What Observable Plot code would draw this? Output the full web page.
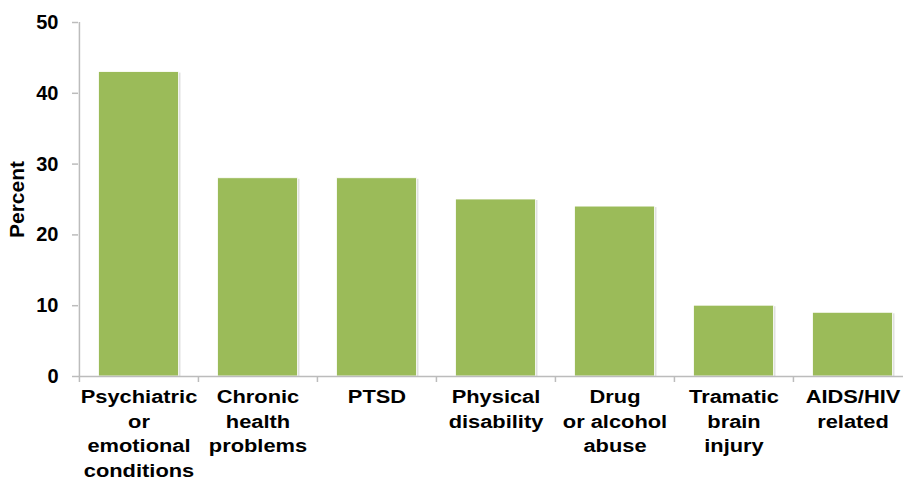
<!DOCTYPE html>
<html>
<head>
<meta charset="utf-8">
<script src="https://cdn.jsdelivr.net/npm/d3@7"></script>
<script src="https://cdn.jsdelivr.net/npm/@observablehq/plot@0.6"></script>
<style>
  html, body { margin: 0; padding: 0; background: #fff; overflow: hidden; }
  #chart svg { display: block; }
</style>
</head>
<body>
<div id="chart"></div>
<script>
const categories = [
  "Psychiatric\nor\nemotional\nconditions",
  "Chronic\nhealth\nproblems",
  "PTSD",
  "Physical\ndisability",
  "Drug\nor alcohol\nabuse",
  "Tramatic\nbrain\ninjury",
  "AIDS/HIV\nrelated"
];
const percents = [43, 28, 28, 25, 24, 10, 9];
const yTicks = [0, 10, 20, 30, 40, 50];
const yDomain = [0, 50];

const data = categories.map((c, i) => ({category: c, value: percents[i]}));

const W = 903, H = 480;
const mL = 78, mR = -9, mT = 22, mB = 104;
const step = (W - mL - mR) / categories.length;
const axisGray = "#bcbcbc";
const barColor = "#9BBB59";

const chart = Plot.plot({
  width: W,
  height: H,
  marginLeft: mL,
  marginRight: mR,
  marginTop: mT,
  marginBottom: mB,
  style: {fontFamily: "Arial, 'Liberation Sans', sans-serif", background: "#fff", overflow: "visible"},
  x: {domain: categories, padding: 0},
  y: {domain: yDomain},
  marks: [
    // bar shadows
    Plot.barY(data, {x: "category", y: "value", fill: "#000", fillOpacity: 0.12, insetLeft: 21, insetRight: 17.5, dy: 1}),
    Plot.barY(data, {x: "category", y: "value", fill: barColor, stroke: "#fff", strokeWidth: 0.8, insetLeft: 19.5, insetRight: 19.5}),
    // axis lines
    Plot.ruleY([yDomain[0]], {stroke: axisGray, strokeWidth: 1.5}),
    Plot.ruleX([categories[0]], {dx: -step / 2, y1: yDomain[0], y2: yDomain[1], stroke: axisGray, strokeWidth: 1.5}),
    // category boundary ticks
    Plot.axisX({tickSize: 6, tickFormat: () => "", dx: -step / 2, stroke: axisGray, strokeWidth: 1.5, label: null}),
    // category labels
    Plot.axisX({tickSize: 0, tickPadding: 9, fontSize: 19, fontWeight: "bold", fill: "#000", lineHeight: 1.3, label: null}),
    Plot.axisY({ticks: yTicks, tickSize: 6, tickPadding: 14, fontSize: 20, fontWeight: "bold", fill: "#000", stroke: axisGray, strokeWidth: 1.5,
      label: null}),
    Plot.axisY({ticks: [], tickSize: 0, label: "Percent", labelAnchor: "center", labelOffset: 69, labelArrow: "none", fontSize: 21, fontWeight: "bold", fill: "#000"})
  ]
});

// widen category labels horizontally to match reference lettering
const flat = new Set(categories.map(c => c.replace(/\n/g, "")));
chart.querySelectorAll("text").forEach(t => {
  if (!flat.has(t.textContent.replace(/\s*\n\s*/g, ""))) return;
  const tr = t.getAttribute("transform");
  if (tr) {
    t.setAttribute("transform", tr + " scale(1.15,1)");
  } else {
    const x = +t.getAttribute("x") || 0, y = +t.getAttribute("y") || 0;
    t.setAttribute("transform", `translate(${x},${y}) scale(1.15,1) translate(${-x},${-y})`);
  }
});

document.getElementById("chart").appendChild(chart);
</script>
</body>
</html>
